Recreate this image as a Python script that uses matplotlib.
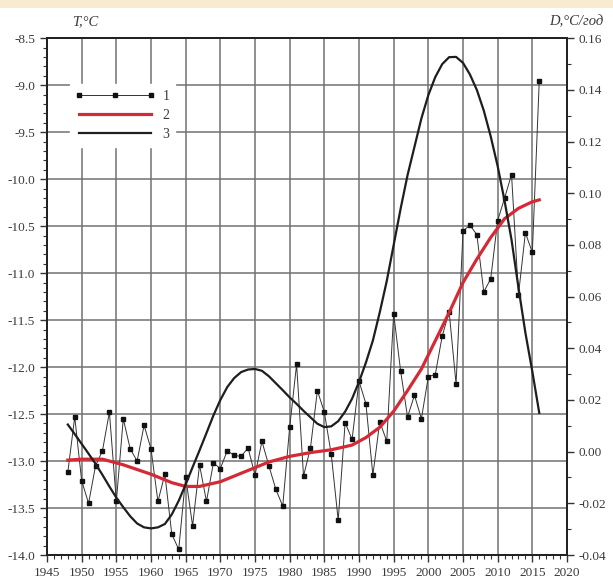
import numpy as np
import matplotlib
matplotlib.use("Agg")
import matplotlib.pyplot as plt
from matplotlib.ticker import MultipleLocator, FormatStrFormatter
from matplotlib.patches import Rectangle

# series 1: annual mean temperature, T (degC)
years = list(range(1948, 2017))
temp = [-13.12, -12.53, -13.21, -13.45, -13.05, -12.89, -12.48, -13.43, -12.55, -12.87,
        -13.00, -12.62, -12.87, -13.43, -13.14, -13.78, -13.94, -13.17, -13.69, -13.04,
        -13.43, -13.02, -13.08, -12.89, -12.94, -12.95, -12.86, -13.15, -12.79, -13.05,
        -13.30, -13.48, -12.64, -11.97, -13.16, -12.86, -12.25, -12.48, -12.93, -13.63,
        -12.59, -12.77, -12.15, -12.39, -13.15, -12.58, -12.79, -11.43, -12.04, -12.53,
        -12.30, -12.55, -12.10, -12.08, -11.67, -11.41, -12.18, -10.55, -10.49, -10.59,
        -11.20, -11.06, -10.44, -10.20, -9.95, -11.23, -10.57, -10.78, -8.95]

# series 2: smoothed trend of T
trend_years = [1948, 1950, 1953, 1956, 1960, 1963, 1965, 1967, 1970, 1972, 1975, 1977,
               1980, 1983, 1986, 1989, 1991, 1993, 1995, 1997, 1999, 2001, 2003, 2005,
               2007, 2009, 2011, 2013, 2015, 2016]
trend = [-12.99, -12.98, -12.98, -13.04, -13.14, -13.23, -13.27, -13.27, -13.22, -13.16,
         -13.07, -13.01, -12.95, -12.91, -12.88, -12.83, -12.75, -12.64, -12.47, -12.25,
         -12.02, -11.72, -11.42, -11.10, -10.85, -10.62, -10.42, -10.31, -10.24, -10.22]

# series 3: rate of change D (degC/year), right axis
rate_years = list(range(1948, 2017))
rate = [0.0105, 0.0068, 0.0030, -0.0008, -0.0047, -0.0090, -0.0135, -0.0178, -0.0215,
        -0.0250, -0.0278, -0.0293, -0.0297, -0.0293, -0.0280, -0.0243, -0.0190, -0.0127,
        -0.0060, 0.0005, 0.0072, 0.0140, 0.0200, 0.0250, 0.0285, 0.0308, 0.0318, 0.0320,
        0.0313, 0.0292, 0.0265, 0.0238, 0.0210, 0.0185, 0.0158, 0.0133, 0.0108, 0.0095,
        0.0098, 0.0118, 0.0155, 0.0205, 0.0270, 0.0345, 0.0430, 0.0540, 0.0660, 0.0800,
        0.0940, 0.1070, 0.1180, 0.1290, 0.1380, 0.1450, 0.1500, 0.1527, 0.1528, 0.1505,
        0.1460, 0.1400, 0.1320, 0.1220, 0.1105, 0.0970, 0.0820, 0.0635, 0.0460, 0.0310,
        0.0150]

SERIF = ["Liberation Serif", "DejaVu Serif"]
TXT = "#3a3a3a"
plt.rcParams.update({"font.family": SERIF, "font.size": 9.5})

fig = plt.figure(figsize=(6.13, 5.87), dpi=100)
fig.patches.append(Rectangle((0, 1 - 8 / 587), 1, 8 / 587, transform=fig.transFigure,
                             facecolor="#f9ebd2", edgecolor="none", zorder=0))
ax = fig.add_axes([47 / 613, 1 - 555 / 587, 520 / 613, 516.7 / 587])
ax2 = ax.twinx()

ax.set_xlim(1945, 2020)
ax.set_ylim(-14.0, -8.5)
ax2.set_ylim(-0.04, 0.16)

ax.xaxis.set_major_locator(MultipleLocator(5))
ax.xaxis.set_minor_locator(MultipleLocator(1))
ax.yaxis.set_major_locator(MultipleLocator(0.5))
ax.yaxis.set_minor_locator(MultipleLocator(0.1))
ax.yaxis.set_major_formatter(FormatStrFormatter("%.1f"))
ax2.yaxis.set_major_locator(MultipleLocator(0.02))
ax2.yaxis.set_minor_locator(MultipleLocator(0.01))
ax2.yaxis.set_major_formatter(FormatStrFormatter("%.2f"))

ax.grid(True, which="major", color="#727272", linewidth=1.1)
ax.set_axisbelow(True)
for a in (ax, ax2):
    a.tick_params(which="major", direction="out", length=5, width=1, colors="#333",
                  labelcolor=TXT, labelsize=9.5)
    a.tick_params(which="minor", direction="out", length=3, width=0.8, colors="#333")
    for sp in a.spines.values():
        sp.set_color("#222")
        sp.set_linewidth(1.4)

l1, = ax.plot(years, temp, color="#333", linewidth=0.7, marker="s", markersize=3,
              markerfacecolor="#111", markeredgecolor="#111", zorder=3)
l2, = ax.plot(trend_years, trend, color="#d42a36", linewidth=2.3, zorder=4)
l3, = ax2.plot(rate_years, rate, color="#1e1e1e", linewidth=1.6, zorder=4)

leg = ax2.legend([l1, l2, l3], ["1", "2", "3"], loc="upper left",
                 bbox_to_anchor=(0.03, 0.925), handlelength=5.8, handletextpad=0.5,
                 labelspacing=0.45, numpoints=3, fontsize=10, frameon=True,
                 framealpha=1, facecolor="white", edgecolor="white", borderpad=0.4,
                 fancybox=False)
for t in leg.get_texts():
    t.set_color(TXT)

fig.text(85 / 613, 1 - 22 / 587, "T,°C", ha="center", va="center", fontsize=10.5,
         style="italic", color=TXT)
fig.text(576 / 613, 1 - 22 / 587, "D,°C/год", ha="center", va="center", fontsize=10.5,
         style="italic", color=TXT)

fig.savefig("out.png", dpi=100)
